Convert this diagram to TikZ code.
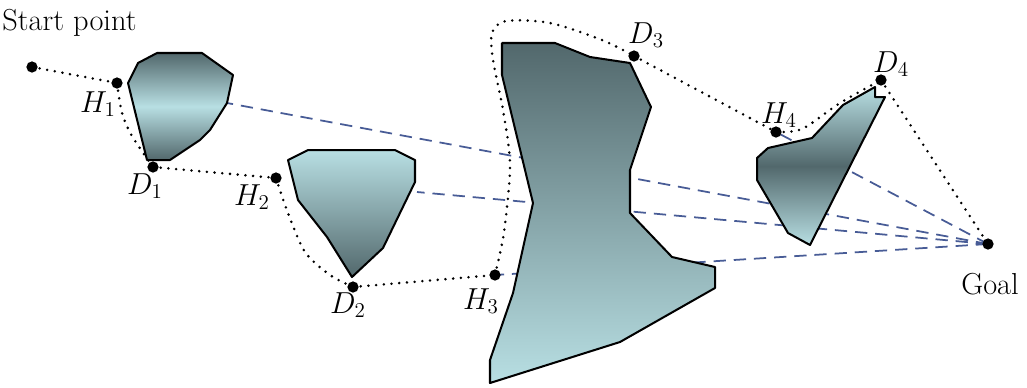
\documentclass[tikz,border=0pt]{standalone}
\usepackage{tikz}
\usepackage{xcolor}
\usetikzlibrary{calc}
\definecolor{obsDark}{RGB}{82,104,108}
\definecolor{obsLight}{RGB}{184,223,227}
\definecolor{rayBlue}{RGB}{72,92,150}

\begin{document}
\begin{tikzpicture}[x=0.02cm,y=-0.02cm,
  obstacle/.style={draw=black,line width=1.15pt,line join=round},
  pathdot/.style={line width=1.6pt,line cap=round,dash pattern=on 0pt off 4.4pt},
  ray/.style={draw=rayBlue,line width=1pt,dash pattern=on 7pt off 4.5pt},
  pt/.style={circle,fill=black,inner sep=0pt,minimum size=6.4pt},
  lbl/.style={font=\LARGE,inner sep=0pt}]
\useasboundingbox (0,0) rectangle (1027,387);

% path points
\coordinate (S) at (32,67);
\coordinate (H1) at (117,83);
\coordinate (D1) at (153,167);
\coordinate (H2) at (276,178);
\coordinate (D2) at (353,287);
\coordinate (H3) at (495,275);
\coordinate (D3) at (634,56);
\coordinate (H4) at (776,132);
\coordinate (D4) at (881,80);
\coordinate (G) at (988,244);
\coordinate (o1ray) at (227,103);
\coordinate (o2ray) at (417,192);

% rays to the goal
\draw[ray] (G) -- (o1ray);
\draw[ray] (G) -- (o2ray);
\draw[ray] (G) -- (H3);
\draw[ray] (G) -- (H4);

% dotted path
\draw[pathdot] (S) -- (H1);
\draw[pathdot] plot[smooth] coordinates {(H1) (122,113) (132,136) (D1)};
\draw[pathdot] (D1) -- (H2);
\draw[pathdot] plot[smooth] coordinates {(H2) (288,213) (305,252) (330,275) (D2)};
\draw[pathdot] (D2) -- (H3);
\draw[pathdot] plot[smooth] coordinates {(H3) (504,232) (510,165) (503,110) (493,60) (492,33) (506,21) (550,23) (602,40) (D3)};
\draw[pathdot] (D3) -- (H4);
\draw[pathdot] plot[smooth] coordinates {(H4) (802,129) (840,103) (D4)};
\draw[pathdot] (D4) -- (G);

% obstacles
\draw[obstacle,top color=obsDark,bottom color=obsDark,middle color=obsLight]
  (128,83) -- (138,63) -- (157,53) -- (202,53) -- (233,75) -- (227,103)
  -- (210,130) -- (200,140) -- (170,160) -- (147,160) -- cycle;
\draw[obstacle,top color=obsLight,bottom color=obsDark]
  (288,160) -- (308,150) -- (395,150) -- (415,160) -- (415,182)
  -- (383,248) -- (352,277) -- (327,237) -- (298,200) -- cycle;
\draw[obstacle,top color=obsDark,bottom color=obsLight]
  (502,43) -- (555,43) -- (590,57) -- (630,63) -- (651,107) -- (630,170)
  -- (630,213) -- (672,257) -- (715,267) -- (715,288) -- (620,342)
  -- (490,383) -- (490,360) -- (513,293) -- (533,203) -- (502,75) -- cycle;
\draw[obstacle,top color=obsLight,bottom color=obsLight,middle color=obsDark]
  (885,97) -- (875,97) -- (875,87) -- (843,105) -- (812,138) -- (768,148)
  -- (757,158) -- (757,180) -- (788,233) -- (810,245) -- cycle;

% points on top
\foreach \p in {S,H1,D1,H2,D2,H3,D3,H4,D4,G}
  \node[pt] (dot\p) at (\p) {};

% labels
\node[lbl,anchor=base west] (startLbl) at (2,30) {Start point};
\node[lbl] (H1lbl) at (98,104) {$H_1$};
\node[lbl] (D1lbl) at (145,186) {$D_1$};
\node[lbl] (H2lbl) at (252,197) {$H_2$};
\node[lbl] (D2lbl) at (348,305) {$D_2$};
\node[lbl] (H3lbl) at (481,301) {$H_3$};
\node[lbl] (D3lbl) at (646,35) {$D_3$};
\node[lbl] (H4lbl) at (779,115) {$H_4$};
\node[lbl] (D4lbl) at (891,64) {$D_4$};
\node[lbl] (goalLbl) at (990,284) {Goal};
\end{tikzpicture}
\end{document}
